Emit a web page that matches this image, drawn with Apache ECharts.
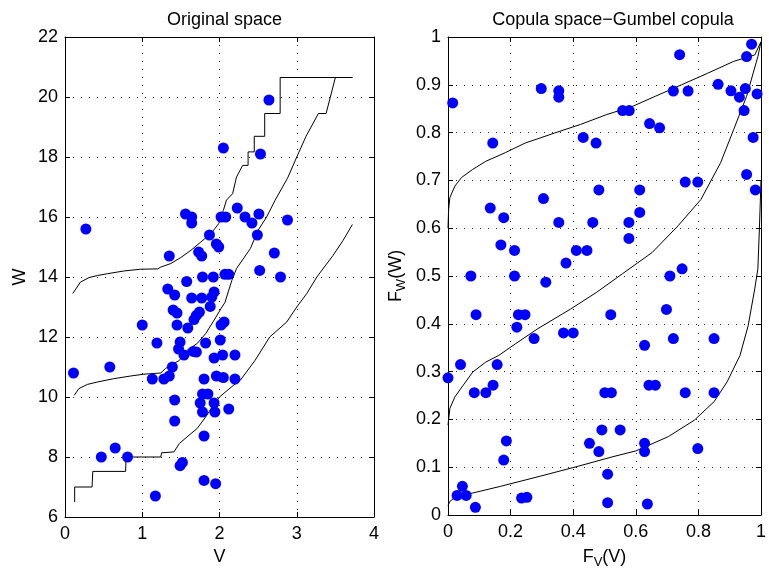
<!DOCTYPE html>
<html>
<head>
<meta charset="utf-8">
<script src="https://cdn.jsdelivr.net/npm/echarts@6/dist/echarts.min.js"></script>
<style>
  html, body { margin: 0; padding: 0; background: #fff; }
  #chart { width: 769px; height: 574px; }
</style>
</head>
<body>
<div id="chart"></div>
<script>
// Observed sample (V, W)
const sampleV = [2.64, 2.05, 2.53, 1.56, 1.64, 1.64, 2.23, 2.02, 2.08, 2.33, 2.42, 2.51, 2.88, 0.27, 1.87,
  2.49, 1.96, 1.99, 2.71, 1.35, 1.73, 1.77, 2.52, 2.79, 1.575, 1.78, 1.92, 2.07, 2.12,
  1.33, 1.42, 1.64, 1.77, 1.93, 1.90, 1.88, 1.40, 1.45, 1.74, 1.70, 1.67, 1.00, 1.45, 1.59, 2.06,
  2.02, 1.19, 1.49, 1.82, 2.01, 1.47, 1.54, 1.66, 1.70, 1.93, 2.04, 2.20, 0.11, 0.58, 1.39, 1.13,
  1.28, 1.35, 1.80, 1.96, 2.05, 2.20, 1.42, 1.78, 1.85, 1.75, 1.93, 1.78, 1.94, 2.12, 1.42, 1.80,
  0.65, 0.47, 0.81, 1.52, 1.49, 1.80, 1.95, 1.17];
const sampleW = [19.9, 18.3, 18.1, 16.1, 16.0, 15.8, 16.3, 16.0, 16.0, 16.0, 15.8, 16.1, 15.9, 15.6, 15.4,
  15.4, 15.1, 15.0, 14.8, 14.7, 14.83, 14.7, 14.22, 14.0, 13.85, 14.0, 14.0, 14.09, 14.09,
  13.6, 13.4, 13.3, 13.3, 13.5, 13.33, 13.02, 12.9, 12.8, 12.83, 12.72, 12.58, 12.4, 12.4, 12.3, 12.5,
  12.4, 11.8, 11.83, 11.8, 11.9, 11.6, 11.4, 11.52, 11.5, 11.3, 11.4, 11.4, 10.8, 11.0, 11.0, 10.6,
  10.6, 10.7, 10.6, 10.7, 10.65, 10.6, 9.9, 10.1, 10.1, 9.8, 9.8, 9.5, 9.5, 9.6, 9.2, 8.7,
  8.3, 8.0, 8.0, 7.82, 7.71, 7.22, 7.11, 6.7];

// Conditional quantile curves in the original space: [V, W]
const origUpper = [[0.10, 13.45], [0.14, 13.6], [0.2, 13.83], [0.31, 13.98], [0.42, 14.05], [0.55, 14.11],
  [0.76, 14.2], [0.98, 14.26], [1.2, 14.27], [1.24, 14.33], [1.37, 14.45], [1.5, 14.65], [1.63, 14.89],
  [1.76, 15.17], [1.89, 15.45], [1.99, 15.78], [2.05, 16.22], [2.09, 16.56], [2.17, 16.78], [2.22, 17.33],
  [2.3, 17.72], [2.37, 17.72], [2.37, 18.17], [2.45, 18.17], [2.45, 18.69], [2.585, 18.69], [2.585, 19.45],
  [2.785, 19.45], [2.785, 20.65], [3.72, 20.65]];
const origMiddle = [[0.12, 10.06], [0.18, 10.28], [0.29, 10.42], [0.42, 10.5], [0.63, 10.61], [0.85, 10.7],
  [1.02, 10.76], [1.24, 10.8], [1.3, 10.95], [1.48, 11.22], [1.58, 11.56], [1.71, 11.78], [1.82, 12.11],
  [1.93, 12.56], [2.02, 12.95], [2.07, 13.15], [2.16, 13.89], [2.22, 14.28], [2.4, 14.95], [2.5, 15.56],
  [2.61, 16.0], [2.72, 16.56], [2.88, 17.29], [3.0, 18.0], [3.12, 18.69], [3.28, 19.45], [3.38, 19.45],
  [3.5, 20.65], [3.72, 20.65]];
const origLower = [[0.125, 6.5], [0.125, 7.0], [0.35, 7.0], [0.36, 7.52], [0.785, 7.52], [0.79, 8.0],
  [1.24, 8.0], [1.25, 8.14], [1.41, 8.17], [1.48, 8.45], [1.58, 8.67], [1.71, 8.95], [1.82, 9.33],
  [1.89, 9.61], [2.0, 10.0], [2.18, 10.39], [2.27, 10.56], [2.46, 11.22], [2.65, 12.0], [2.87, 12.5],
  [3.0, 13.0], [3.13, 13.45], [3.26, 14.0], [3.47, 14.72], [3.6, 15.22], [3.72, 15.75]];

// Pseudo-observations (F_V(V), F_W(W))
const copulaU = [0.97, 0.74, 0.954, 0.015, 0.298, 0.354, 0.354, 0.863, 0.72, 0.767, 0.904, 0.95, 0.931, 0.9875,
  0.558, 0.579, 0.946, 0.644, 0.676, 0.143, 0.432, 0.473, 0.975, 0.758, 0.798, 0.954, 0.982, 0.482, 0.6125,
  0.305, 0.135, 0.178, 0.6125, 0.354, 0.4625, 0.578, 0.578, 0.169, 0.2125, 0.41, 0.444, 0.377, 0.073, 0.2125,
  0.709, 0.748,
  0.3125, 0.0896, 0.225, 0.246, 0.22, 0.52, 0.698, 0.275, 0.369, 0.4, 0.628, 0.72, 0.85, 0.0, 0.04, 0.157,
  0.084, 0.121, 0.144, 0.501, 0.522, 0.642, 0.6625, 0.758, 0.85, 0.4917, 0.55, 0.1865, 0.452, 0.482, 0.628,
  0.628, 0.798, 0.178, 0.51, 0.046, 0.029, 0.058, 0.235, 0.252, 0.0875, 0.51, 0.637];
const copulaV = [0.985, 0.963, 0.959, 0.862, 0.892, 0.8875, 0.874, 0.901, 0.887, 0.887, 0.8875, 0.892, 0.874, 0.881,
  0.846, 0.846, 0.846, 0.819, 0.81, 0.778, 0.79, 0.778, 0.79, 0.6965, 0.6965, 0.7125, 0.68, 0.68, 0.68,
  0.662, 0.642, 0.622, 0.633, 0.612, 0.612, 0.612, 0.5785, 0.565, 0.5535, 0.5535, 0.5535, 0.527, 0.5, 0.5,
  0.5, 0.515,
  0.487, 0.419, 0.419, 0.419, 0.393, 0.419, 0.43, 0.369, 0.381, 0.381, 0.355, 0.369, 0.369, 0.287, 0.3146, 0.3146,
  0.256, 0.256, 0.2715, 0.256, 0.256, 0.2715, 0.2715, 0.256, 0.256, 0.178, 0.178, 0.155, 0.15, 0.1326, 0.15,
  0.1326, 0.139, 0.115, 0.0854, 0.06, 0.041, 0.041, 0.0354, 0.037, 0.016, 0.0257, 0.023];

// Gumbel copula conditional quantile curves: [u, v]
const copUpper = [[0, 0.6], [0.002, 0.64], [0.006, 0.664], [0.022, 0.688], [0.043, 0.706], [0.079, 0.723],
  [0.121, 0.74], [0.183, 0.758], [0.246, 0.778], [0.34, 0.799], [0.423, 0.817], [0.506, 0.8375], [0.59, 0.855],
  [0.6625, 0.876], [0.746, 0.9], [0.829, 0.924], [0.9125, 0.949], [0.98, 0.9625], [1.0, 0.99]];
const copMiddle = [[0, 0.188], [0.006, 0.223], [0.022, 0.247], [0.048, 0.271], [0.079, 0.299], [0.121, 0.32],
  [0.1625, 0.334], [0.215, 0.358], [0.2875, 0.39], [0.392, 0.431], [0.475, 0.466], [0.558, 0.505],
  [0.652, 0.549], [0.735, 0.605], [0.808, 0.66], [0.871, 0.737], [0.9125, 0.806], [0.954, 0.876],
  [0.99, 0.959], [1.0, 0.99]];
const copLower = [[0, 0.02], [0.006, 0.0285], [0.027, 0.039], [0.079, 0.046], [0.168, 0.06], [0.2875, 0.08],
  [0.4125, 0.1014], [0.527, 0.122], [0.6, 0.134], [0.704, 0.164], [0.7875, 0.1986], [0.85, 0.237],
  [0.8917, 0.2785], [0.933, 0.334], [0.959, 0.396], [0.98, 0.473], [0.99, 0.515], [0.995, 0.6], [1.0, 0.7]];

const FONT = 'Liberation Sans, Arial, sans-serif';
const FS = 18;

const zip = (a, b) => a.map((v, i) => [v, b[i]]);

// Box axis: line plus inward ticks, no labels (used for top/right edges)
function frameAxis(gridIndex, min, max, interval, opts) {
  return Object.assign({
    gridIndex, min, max, interval, type: 'value',
    axisLine: { show: true, onZero: false, lineStyle: { color: '#000', width: 1 } },
    axisTick: { show: true, inside: true, length: 5, lineStyle: { color: '#000' } },
    axisLabel: { show: false },
    splitLine: { show: false }
  }, opts);
}

const gridLine = { show: true, lineStyle: { color: '#222', width: 1, type: [1, 7] } };
const labelStyle = { show: true, color: '#000', fontSize: FS, fontFamily: FONT, showMinLabel: true, showMaxLabel: true, hideOverlap: false };
const fmtUnit = v => (v === 0 || v === 1) ? String(v) : v.toFixed(1);

const richName = {
  a: { fontSize: FS, fontFamily: FONT, color: '#000' },
  s: { fontSize: 13, fontFamily: FONT, color: '#000', padding: [10, 0, 0, 0] }
};

const chart = echarts.init(document.getElementById('chart'), null, { renderer: 'canvas' });
chart.setOption({
  animation: false,
  backgroundColor: '#fff',
  title: [
    { text: 'Original space', left: 219.5, top: 6, textAlign: 'center',
      textStyle: { fontSize: FS, fontWeight: 'normal', fontFamily: FONT, color: '#000' } },
    { text: 'Copula space\u2212Gumbel copula', left: 608, top: 6, textAlign: 'center',
      textStyle: { fontSize: FS, fontWeight: 'normal', fontFamily: FONT, color: '#000' } }
  ],
  grid: [
    { left: 65, top: 37, width: 309, height: 480 },
    { left: 448, top: 37, width: 320, height: 480 }
  ],
  xAxis: [
    frameAxis(0, 0, 4, 1, { position: 'bottom', axisLabel: Object.assign({ margin: 8 }, labelStyle), splitLine: gridLine,
      name: 'V', nameLocation: 'middle', nameGap: 31, nameTextStyle: { fontSize: FS, fontFamily: FONT, color: '#000' } }),
    frameAxis(0, 0, 4, 1, { position: 'top' }),
    frameAxis(1, 0, 1, 0.2, { position: 'bottom', axisLabel: Object.assign({ margin: 8, formatter: fmtUnit }, labelStyle), splitLine: gridLine,
      name: '{a|F}{s|V}{a|(V)}', nameLocation: 'middle', nameGap: 31, nameTextStyle: { rich: richName } }),
    frameAxis(1, 0, 1, 0.2, { position: 'top' })
  ],
  yAxis: [
    frameAxis(0, 6, 22, 2, { position: 'left', axisLabel: Object.assign({ margin: 7 }, labelStyle), splitLine: gridLine,
      name: 'W', nameLocation: 'middle', nameGap: 36, nameTextStyle: { fontSize: FS, fontFamily: FONT, color: '#000' } }),
    frameAxis(0, 6, 22, 2, { position: 'right' }),
    frameAxis(1, 0, 1, 0.1, { position: 'left', axisLabel: Object.assign({ margin: 7, formatter: fmtUnit }, labelStyle), splitLine: gridLine,
      name: '{a|F}{s|W}{a|(W)}', nameLocation: 'middle', nameGap: 40, nameTextStyle: { rich: richName } }),
    frameAxis(1, 0, 1, 0.1, { position: 'right' })
  ],
  series: [
    { type: 'line', xAxisIndex: 0, yAxisIndex: 0, data: origUpper, showSymbol: false, lineStyle: { color: '#000', width: 1 }, z: 3 },
    { type: 'line', xAxisIndex: 0, yAxisIndex: 0, data: origMiddle, showSymbol: false, lineStyle: { color: '#000', width: 1 }, z: 3 },
    { type: 'line', xAxisIndex: 0, yAxisIndex: 0, data: origLower, showSymbol: false, lineStyle: { color: '#000', width: 1 }, z: 3 },
    { type: 'scatter', xAxisIndex: 0, yAxisIndex: 0, data: zip(sampleV, sampleW), symbolSize: 11,
      itemStyle: { color: '#0000ff', opacity: 1 }, z: 4 },
    { type: 'line', xAxisIndex: 2, yAxisIndex: 2, data: copUpper, showSymbol: false, lineStyle: { color: '#000', width: 1 }, z: 3 },
    { type: 'line', xAxisIndex: 2, yAxisIndex: 2, data: copMiddle, showSymbol: false, lineStyle: { color: '#000', width: 1 }, z: 3 },
    { type: 'line', xAxisIndex: 2, yAxisIndex: 2, data: copLower, showSymbol: false, lineStyle: { color: '#000', width: 1 }, z: 3 },
    { type: 'scatter', xAxisIndex: 2, yAxisIndex: 2, data: zip(copulaU, copulaV), symbolSize: 11,
      itemStyle: { color: '#0000ff', opacity: 1 }, z: 4 }
  ]
});
</script>
</body>
</html>
